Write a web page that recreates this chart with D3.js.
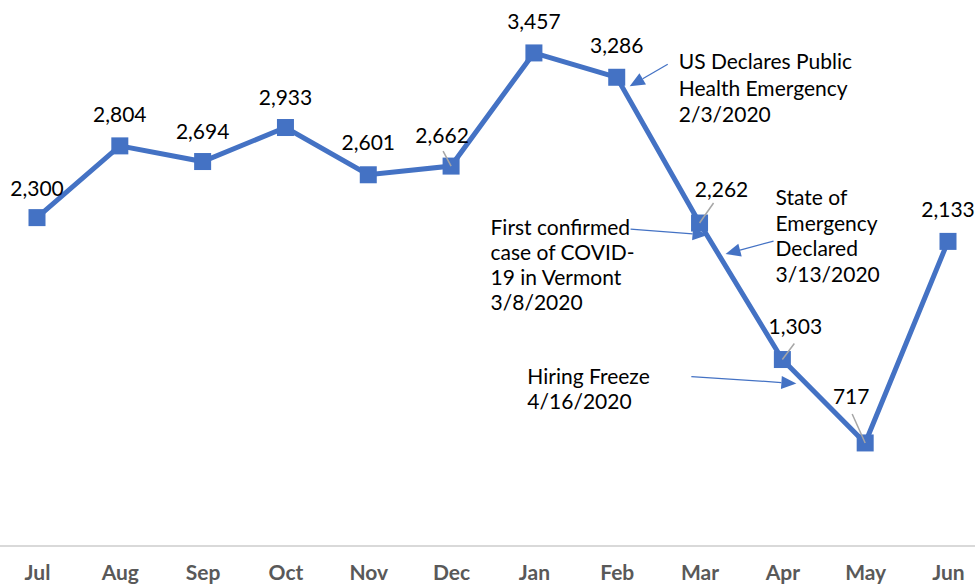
<!DOCTYPE html>
<html>
<head>
<meta charset="utf-8">
<script src="https://cdn.jsdelivr.net/npm/d3@7"></script>
<style>
  html, body { margin: 0; padding: 0; background: #fff; }
  svg { display: block; }
  text { font-family: Lato, "Open Sans", sans-serif; }
</style>
</head>
<body>
<svg id="chart" width="975" height="587"></svg>
<script>
// ---- data ----
const months = ["Jul","Aug","Sep","Oct","Nov","Dec","Jan","Feb","Mar","Apr","May","Jun"];
const values = [2300, 2804, 2694, 2933, 2601, 2662, 3457, 3286, 2262, 1303, 717, 2133];
const annotationTexts = [
  ["US Declares Public", "Health Emergency", "2/3/2020"],
  ["First confirmed", "case of COVID-", "19 in Vermont", "3/8/2020"],
  ["State of", "Emergency", "Declared", "3/13/2020"],
  ["Hiring Freeze", "4/16/2020"]
];
const annotationMonths = ["Feb", "Mar", "Mar", "Apr"];

// ---- layout (pixel offsets, not data) ----
const labelOffsets = [[0,-22],[0,-24],[0,-23],[0,-23],[0,-25],[-9,-23],[0,-24],[0,-24],[22,-26],[13,-26],[-14,-39],[0,-24]];
const leaderOffsets = {5:[-8,-15], 8:[14,-20], 9:[12,-16], 10:[-13,-29]};
const annLayout = [
  {text:[62,-8], tail:[51,-13], tip:[13,9], lh:26.5},
  {text:[-209,12], tail:[-69,6], tip:[8,12], lh:25},
  {text:[76,-18], tail:[74,18], tip:[26,31], lh:25.5},
  {text:[-255,24], tail:[-91,17], tip:[14,24], lh:25}
];
const fs = 21;

const blue = "#4472C4";
const svg = d3.select("#chart");

const x = d3.scalePoint().domain(months).range([37, 948]);
const y = d3.scaleLinear().domain([0, 4000]).range([545, 545 - 4000 * 0.14234]);

// x axis
const axis = svg.append("g")
  .attr("transform", "translate(0,546)")
  .call(d3.axisBottom(x).tickSize(0).tickSizeOuter(0).tickPadding(19));
axis.select(".domain").attr("d", "M0,0H975").attr("stroke", "#d9d9d9").attr("stroke-width", 2);
axis.selectAll(".tick text")
  .attr("font-family", "Lato, sans-serif")
  .attr("font-size", fs)
  .attr("font-weight", "bold")
  .attr("fill", "#595959");

const pts = months.map((m, i) => ({m, v: values[i], i}));

// line
svg.append("path")
  .datum(pts)
  .attr("fill", "none")
  .attr("stroke", blue)
  .attr("stroke-width", 5)
  .attr("stroke-linejoin", "miter")
  .attr("d", d3.line().x(d => x(d.m)).y(d => y(d.v)));

// markers
const ms = 17;
svg.append("g").selectAll("rect")
  .data(pts).join("rect")
  .attr("x", d => x(d.m) - ms/2)
  .attr("y", d => y(d.v) - ms/2)
  .attr("width", ms).attr("height", ms)
  .attr("fill", blue);

// leader lines
svg.append("g").selectAll("line")
  .data(pts.filter(d => leaderOffsets[d.i]))
  .join("line")
  .attr("x1", d => x(d.m) + leaderOffsets[d.i][0])
  .attr("y1", d => y(d.v) + leaderOffsets[d.i][1])
  .attr("x2", d => x(d.m))
  .attr("y2", d => y(d.v))
  .attr("stroke", "#a6a6a6").attr("stroke-width", 1.5);

// data labels
const fmt = d3.format(",");
svg.append("g").selectAll("text")
  .data(pts).join("text")
  .attr("x", d => x(d.m) + labelOffsets[d.i][0])
  .attr("y", d => y(d.v) + labelOffsets[d.i][1])
  .attr("text-anchor", "middle")
  .attr("font-size", fs)
  .attr("fill", "#000")
  .text(d => fmt(d.v));

// annotations
annotationTexts.forEach((lines, k) => {
  const m = annotationMonths[k];
  const px = x(m), py = y(values[months.indexOf(m)]);
  const L = annLayout[k];
  const tx = px + L.tail[0], ty = py + L.tail[1];
  const hx = px + L.tip[0], hy = py + L.tip[1];
  const ang = Math.atan2(hy - ty, hx - tx);
  const hl = 15, hw = 6.5;
  const bx = hx - hl * Math.cos(ang), by = hy - hl * Math.sin(ang);
  svg.append("line")
    .attr("x1", tx).attr("y1", ty).attr("x2", bx).attr("y2", by)
    .attr("stroke", blue).attr("stroke-width", 1.25);
  svg.append("polygon")
    .attr("points", [
      [hx, hy],
      [bx + hw * Math.sin(ang), by - hw * Math.cos(ang)],
      [bx - hw * Math.sin(ang), by + hw * Math.cos(ang)]
    ].map(p => p.join(",")).join(" "))
    .attr("fill", blue);
  const t = svg.append("text")
    .attr("x", px + L.text[0]).attr("y", py + L.text[1])
    .attr("font-size", fs).attr("fill", "#000");
  lines.forEach((s, j) => {
    t.append("tspan").attr("x", px + L.text[0]).attr("dy", j === 0 ? 0 : L.lh).text(s);
  });
});
</script>
</body>
</html>
